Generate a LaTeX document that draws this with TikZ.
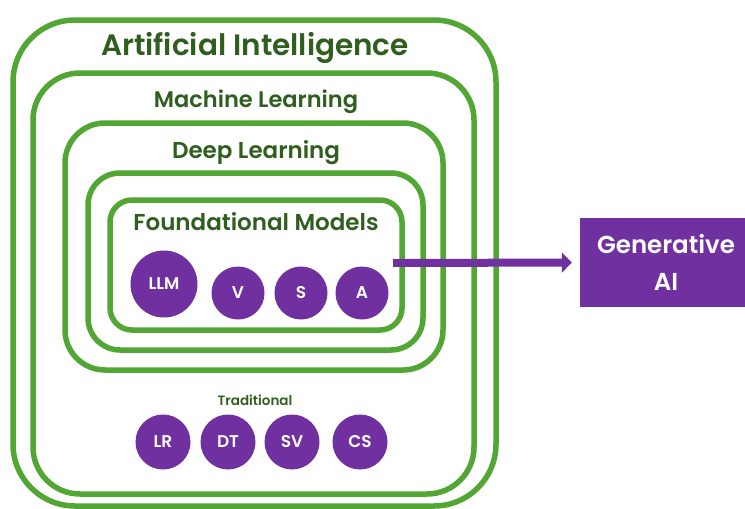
\documentclass[tikz,border=0pt]{standalone}
\usepackage{fontspec}
\setmainfont{Poppins}[BoldFont={Poppins SemiBold}]
\usetikzlibrary{arrows.meta}
\definecolor{lgreen}{HTML}{52A634}
\definecolor{dgreen}{HTML}{2F5E1F}
\definecolor{purp}{HTML}{7030A0}
\begin{document}
\begin{tikzpicture}[x=1pt,y=-1pt,
 ring/.style={draw=lgreen, line width=5.5pt, rectangle, inner sep=0pt, outer sep=0pt},
 title/.style={text=dgreen, font=\bfseries\fontsize{#1}{#1}\selectfont, inner sep=0pt, anchor=base},
 ball/.style={circle, fill=purp, text=white, inner sep=0pt, minimum size=#1, font=\bfseries\fontsize{17}{17}\selectfont},
]
\useasboundingbox (0,0) rectangle (745,509);
\node (ai) [ring, rounded corners=62pt, minimum width=483pt, minimum height=486pt] at (254.5,263) {};
\node (ml) [ring, rounded corners=47pt, minimum width=441pt, minimum height=421pt] at (253.5,283.5) {};
\node (dl) [ring, rounded corners=40pt, minimum width=378pt, minimum height=247pt] at (254,246.5) {};
\node (fb) [ring, rounded corners=32pt, minimum width=335pt, minimum height=177pt] at (255.5,261.5) {};
\node (fm) [ring, rounded corners=22pt, minimum width=292pt, minimum height=130pt] at (256,265) {};

\node (tai) [title=29.5] at (255,55) {Artificial Intelligence};
\node (tml) [title=22.5] at (256,107) {Machine Learning};
\node (tdl) [title=23] at (256,158) {Deep Learning};
\node (tfm) [title=23] at (256,230) {Foundational Models};
\node (ttr) [title=13.5] at (255,405) {Traditional};

\node (llm) [ball=67pt] at (164,284) {LLM};
\node (v) [ball=53pt] at (238,293) {V};
\node (s) [ball=53pt] at (301,293) {S};
\node (a) [ball=53pt] at (362,293) {A};

\node (lr) [ball=55pt] at (163,442) {LR};
\node (dt) [ball=55pt] at (228,442) {DT};
\node (sv) [ball=55pt] at (292,442) {SV};
\node (cs) [ball=55pt] at (360,442) {CS};

\node (gen) [rectangle, fill=purp, text=white, minimum width=172pt, minimum height=89pt, inner sep=0pt, align=center, font=\bfseries\fontsize{24.5}{37}\selectfont] at (666,262.5) {Generative\\AI};

\coordinate (arrstart) at (393,263);
\draw[purp, line width=8pt, -{Triangle[length=10pt,width=20pt]}, shorten >=8pt] (arrstart) -- (gen.west);
\end{tikzpicture}
\end{document}
